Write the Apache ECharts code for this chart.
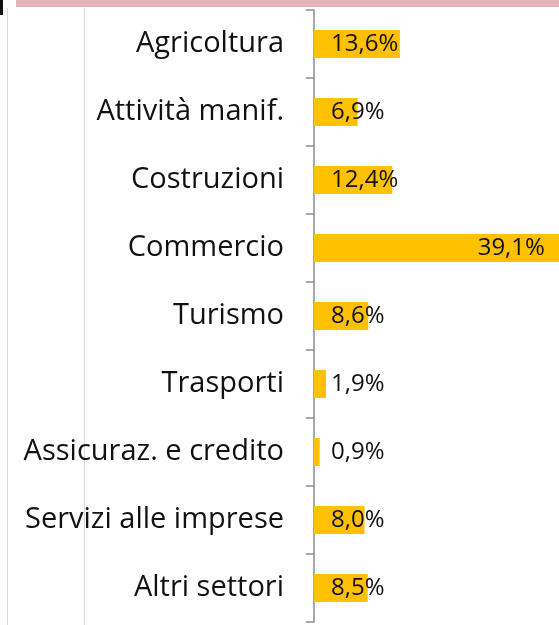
<!DOCTYPE html>
<html>
<head>
<meta charset="utf-8">
<script src="https://cdn.jsdelivr.net/npm/echarts@6/dist/echarts.min.js"></script>
<style>html,body{margin:0;padding:0;background:#fff}#c{width:559px;height:625px}</style>
</head>
<body>
<div id="c"></div>
<script>
var categories = ['Agricoltura','Attività manif.','Costruzioni','Commercio','Turismo','Trasporti','Assicuraz. e credito','Servizi alle imprese','Altri settori'];
var values = [13.6, 6.9, 12.4, 39.1, 8.6, 1.9, 0.9, 8.0, 8.5];

var maxV = Math.max.apply(null, values);
var seriesData = values.map(function (v) {
  if (v === maxV) {
    return { value: v, label: { position: 'insideRight', distance: 16 } };
  }
  return v;
});

var chart = echarts.init(document.getElementById('c'), null, { renderer: 'canvas' });
chart.setOption({
  animation: false,
  backgroundColor: '#ffffff',
  graphic: [
    { type: 'rect', shape: { x: 16, y: 0, width: 543, height: 7 }, style: { fill: '#E8B4B8' }, z: 0 },
    { type: 'rect', shape: { x: 0, y: 0, width: 3, height: 15 }, style: { fill: '#111' }, z: 0 },
    { type: 'line', shape: { x1: 7.5, y1: 8, x2: 7.5, y2: 625 }, style: { stroke: '#d9d9d9', lineWidth: 1 }, z: 0 },
    { type: 'line', shape: { x1: 84.5, y1: 8, x2: 84.5, y2: 625 }, style: { stroke: '#d9d9d9', lineWidth: 1 }, z: 0 }
  ],
  grid: { left: 314, right: 0, top: 10, bottom: 3, containLabel: false },
  xAxis: {
    type: 'value', min: 0, max: 38.8, show: false
  },
  yAxis: {
    type: 'category',
    inverse: true,
    data: categories,
    axisLine: { show: true, lineStyle: { color: '#8c8c8c', width: 1.5 } },
    axisTick: { show: true, length: 8, inside: false, lineStyle: { color: '#8c8c8c', width: 1.5 } },
    axisLabel: { margin: 30, color: '#111', fontFamily: 'Open Sans', fontSize: 29 },
    splitLine: { show: false }
  },
  series: [{
    type: 'bar',
    data: seriesData,
    barWidth: 28,
    clip: false,
    itemStyle: { color: '#FFC000' },
    label: {
      show: true,
      position: 'insideLeft',
      distance: 17,
      color: '#111',
      fontFamily: 'Open Sans',
      fontSize: 24,
      formatter: function (p) { return p.value.toFixed(1).replace('.', ',') + '%'; }
    }
  }]
});
</script>
</body>
</html>
